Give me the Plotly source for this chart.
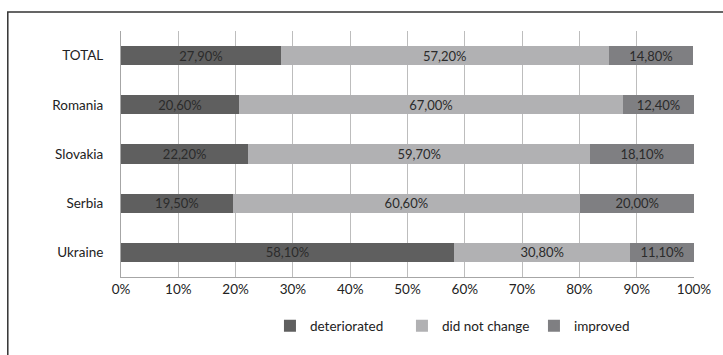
import plotly.graph_objects as go

categories = ["Ukraine", "Serbia", "Slovakia", "Romania", "TOTAL"]
deteriorated = [58.1, 19.5, 22.2, 20.6, 27.9]
did_not_change = [30.8, 60.6, 59.7, 67.0, 57.2]
improved = [11.1, 20.0, 18.1, 12.4, 14.8]
series_names = ["deteriorated", "did not change", "improved"]
colors = ["#5f5f5f", "#b1b1b3", "#7f7f82"]
tick_vals = [0, 10, 20, 30, 40, 50, 60, 70, 80, 90, 100]
tick_text = [f"{v}%" for v in tick_vals]

def fmt(v):
    return f"{v:.2f}".replace(".", ",") + "%"

fig = go.Figure()
for name, vals, col in zip(series_names, [deteriorated, did_not_change, improved], colors):
    fig.add_trace(go.Bar(
        y=categories, x=vals, name=name, orientation="h",
        marker=dict(color=col, line=dict(width=0)),
        text=[fmt(v) for v in vals], textposition="inside",
        insidetextanchor="middle", constraintext="none",
        textfont=dict(color="#2b2b2b", size=13, family="Lato"),
        width=0.39,
    ))

L, R, T, B = 121, 25, 31, 78
W, H = 723, 355
pw, ph = W - L - R, H - T - B

fig.update_layout(
    barmode="stack",
    width=W, height=H,
    margin=dict(l=L, r=R, t=T, b=B),
    paper_bgcolor="white", plot_bgcolor="white",
    font=dict(family="Lato", size=13, color="#222222"),
    xaxis=dict(range=[0, 100], tickvals=tick_vals, ticktext=tick_text,
               showgrid=True, gridcolor="#bdbdbd", gridwidth=1,
               zeroline=False, showline=True, linecolor="#a6a6a6",
               ticks="", ticklen=0, tickfont=dict(size=13.5), fixedrange=True),
    yaxis=dict(showgrid=False, zeroline=False, showline=True, linecolor="#a6a6a6",
               ticks="", tickfont=dict(size=13.5), ticklabelstandoff=14,
               range=[-0.5, 4.5], fixedrange=True),
    legend=dict(orientation="h", x=(271 - L) / pw, xanchor="left", y=-(326 - (T + ph)) / ph,
                yanchor="middle", font=dict(size=13.5), traceorder="normal",
                itemwidth=30, entrywidthmode="pixels", entrywidth=87,
                bgcolor="rgba(0,0,0,0)"),
    showlegend=True,
    uniformtext=dict(mode="show", minsize=13),
    shapes=[dict(type="rect", xref="paper", yref="paper",
                 x0=(7 - L) / pw, x1=(740 - L) / pw,
                 y0=-(375 - T - ph) / ph, y1=1 + (T - 12) / ph,
                 line=dict(color="#333333", width=1.5), fillcolor="rgba(0,0,0,0)",
                 layer="below")],
)

fig.write_html("out.html")
